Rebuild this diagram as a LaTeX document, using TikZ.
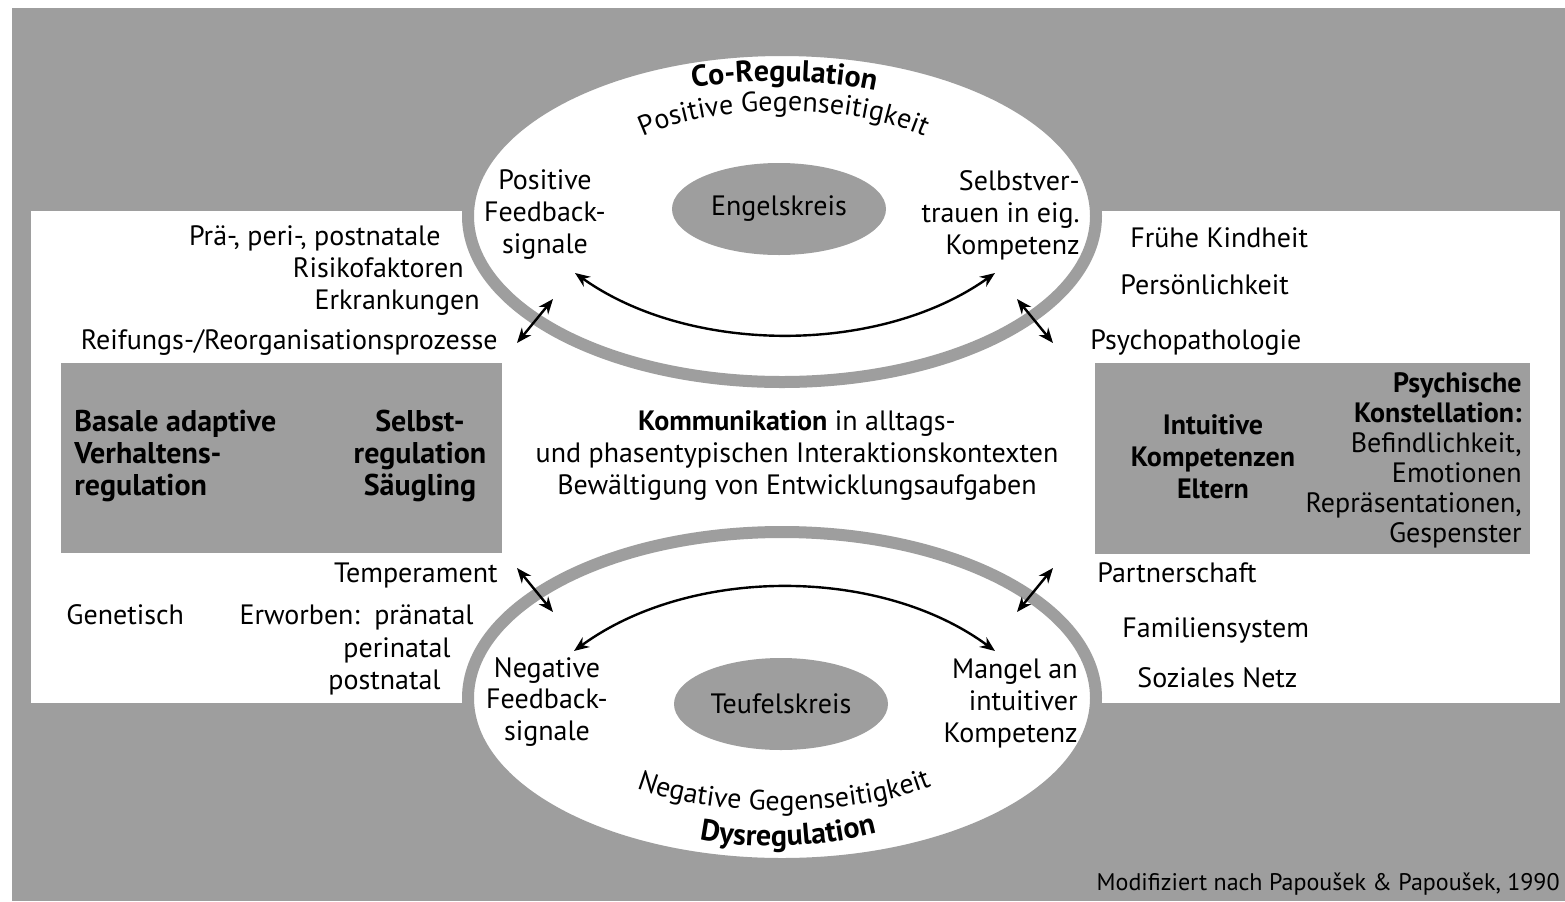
\documentclass[tikz,border=0pt]{standalone}
\usepackage{fontspec}
\setmainfont{PT Sans}
\usetikzlibrary{arrows.meta,decorations.text,shapes.geometric}

\colorlet{screen}{black!38}

\begin{document}
\begin{tikzpicture}[x=0.5pt,y=-0.5pt]
	\tikzset{
		txt/.style={font=\fontsize{14}{16}\selectfont, inner sep=0pt, text height=10pt, text depth=3pt},
		block/.style={font=\fontsize{14}{16}\selectfont, inner sep=0pt},
		heavy/.style={block, font=\fontsize{15}{16}\selectfont\bfseries},
		ring/.style={ellipse, draw=screen, line width=6pt, fill=white, inner sep=0pt, minimum width=314pt, minimum height=166pt},
		core/.style={ellipse, fill=screen, inner sep=0pt, minimum width=107pt, minimum height=46pt, font=\fontsize{14}{16}\selectfont},
		link/.style={{Stealth[length=7.5pt,width=6pt]}-{Stealth[length=7.5pt,width=6pt]}, line width=1.2pt},
		arc text/.style={decorate, decoration={text along path, text align=center, text={#1}}},
	}

	\useasboundingbox (0,0) rectangle (1565,901);
	\fill[screen] (12,8) rectangle (1565,901);
	\fill[white] (31,211) rectangle (1560,703);
	\fill[screen] (61,363) rectangle (502,553);
	\fill[screen] (1095,363) rectangle (1530,554);

	% die beiden Kreise
	\node[ring] (coreg) at (782,216) {};
	\node[ring] (dysreg) at (782,698) {};
	\node[core] (engel) at (779,209) {Engelskreis};
	\node[core] (teufel) at (781,704) {Teufelskreis};

	\path[arc text={|\fontsize{15}{16}\selectfont\bfseries|Co-Regulation}]
		(680,90) .. controls (740,78) and (830,78) .. (888,94);
	\path[arc text={|\fontsize{14}{16}\selectfont|Positive Gegenseitigkeit}]
		(628,144) .. controls (700,100) and (865,100) .. (939,144);
	\path[arc text={|\fontsize{14}{16}\selectfont|Negative Gegenseitigkeit}]
		(623,782) .. controls (700,820) and (865,820) .. (945,780);
	\path[arc text={|\fontsize{15}{16}\selectfont\bfseries|Dysregulation}]
		(688,837) .. controls (750,851) and (820,849) .. (888,830);

	\node[block, align=center] (posfb) at (545,215) {Positive\\Feedback-\\signale};
	\node[block, align=right, anchor=east] (selbstv) at (1080,215) {Selbstver-\\trauen in eig.\\Kompetenz};
	\node[block, align=center] (negfb) at (547,702) {Negative\\Feedback-\\signale};
	\node[block, align=right, anchor=east] (mangel) at (1078,703) {Mangel an\\intuitiver\\Kompetenz};

	% Saeugling
	\node[txt, anchor=east] (prae) at (441,238) {Prä-, peri-, postnatale};
	\node[txt, anchor=east] (risiko) at (464,270) {Risikofaktoren};
	\node[txt, anchor=east] (erkrank) at (480,302) {Erkrankungen};
	\node[txt, anchor=east] (reifung) at (498,342) {Reifungs-/Reorganisationsprozesse};
	\node[heavy, align=left, anchor=west] (basal) at (74,456) {Basale adaptive\\Verhaltens-\\regulation};
	\node[heavy, align=center] (saeug) at (420,456) {Selbst-\\regulation\\Säugling};
	\node[txt, anchor=east] (temper) at (498,575) {Temperament};
	\node[txt, anchor=west] (genet) at (66,617) {Genetisch};
	\node[txt, anchor=east] (erworb) at (474,617) {Erworben:\, pränatal};
	\node[txt, anchor=east] (perin) at (451,650) {perinatal};
	\node[txt, anchor=east] (postn) at (441,682) {postnatal};

	% Mitte
	\node[block, align=center] (komm) at (797,456) {\textbf{Kommunikation} in alltags-\\und phasentypischen Interaktionskontexten\\Bewältigung von Entwicklungsaufgaben};

	% Eltern
	\foreach \nm/\t/\x/\y in {fruehe/Frühe Kindheit/1130/240, persoen/Persönlichkeit/1120/287, psycho/Psychopathologie/1090/342,
		partner/Partnerschaft/1097/575, familie/Familiensystem/1122/630, sozial/Soziales Netz/1137/680}
		{
			\node[txt, anchor=west] (\nm) at (\x,\y) {\t};
		}
	\node[block, align=center, font=\fontsize{14}{16}\selectfont\bfseries] (intuit) at (1213,457) {Intuitive\\Kompetenzen\\Eltern};
	\node[block, align=right, anchor=east, font=\fontsize{14}{15}\selectfont] (konst) at (1522,460) {\textbf{Psychische}\\\textbf{Konstellation:}\\Befindlichkeit,\\Emotionen\\Repräsentationen,\\Gespenster};

	\node[txt, anchor=east, font=\fontsize{12}{14}\selectfont] (quelle) at (1560,883) {Modifiziert nach Papoušek \& Papoušek, 1990};

	% Pfeile
	\coordinate (posfb-in) at (575,273);
	\coordinate (selbstv-in) at (995,273);
	\coordinate (negfb-in) at (574,651);
	\coordinate (mangel-in) at (995,651);
	\coordinate (posfb-out) at (553,299);
	\coordinate (reifung-out) at (517,343);
	\coordinate (selbstv-out) at (1017,299);
	\coordinate (psycho-out) at (1053,343);
	\coordinate (temper-out) at (517,568);
	\coordinate (negfb-out) at (553,612);
	\coordinate (mangel-out) at (1017,612);
	\coordinate (partner-out) at (1053,568);

	\draw[link] (posfb-in) .. controls (690,355) and (880,355) .. (selbstv-in);
	\draw[link] (negfb-in) .. controls (690,566) and (880,566) .. (mangel-in);
	\draw[link] (reifung-out) -- (posfb-out);
	\draw[link] (selbstv-out) -- (psycho-out);
	\draw[link] (temper-out) -- (negfb-out);
	\draw[link] (mangel-out) -- (partner-out);

\end{tikzpicture}
\end{document}
